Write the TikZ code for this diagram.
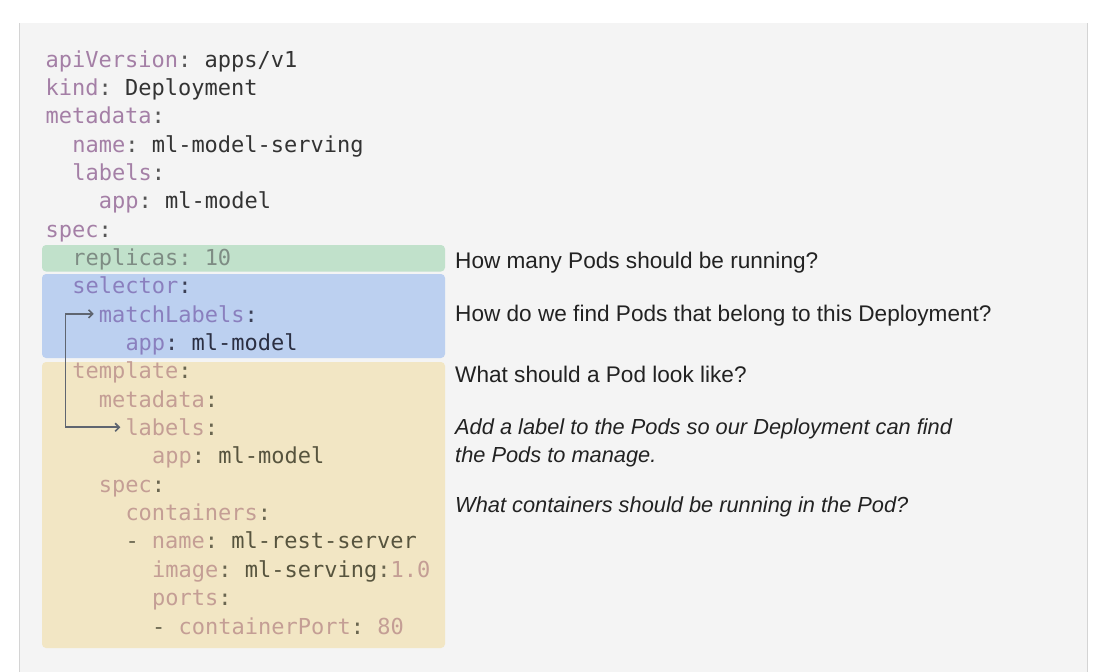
\documentclass[tikz,border=0pt]{standalone}
\usepackage{fontspec}
\usepackage{xcolor}
\usepackage{tikz}
\usetikzlibrary{arrows.meta,calc,positioning}
\newfontfamily\codefont{DejaVu Sans Mono}
\newfontfamily\notefont{Liberation Sans}
\frenchspacing
\definecolor{panelbg}{HTML}{F4F4F4}
\definecolor{paneledge}{HTML}{D4D4D4}
\definecolor{replicabox}{HTML}{C1E1CB}
\definecolor{selectbox}{HTML}{BCD0F0}
\definecolor{templatebox}{HTML}{F2E6C4}
\definecolor{notetext}{HTML}{222222}
\definecolor{linkcol}{HTML}{5F6570}
\colorlet{ykey}{black}
\colorlet{yval}{black}
\colorlet{ypunc}{black}
\newcommand{\ykey}[1]{\textcolor{ykey}{#1}}
\newcommand{\yval}[1]{\textcolor{yval}{#1}}
\newcommand{\ypunc}[1]{\textcolor{ypunc}{#1}}
\newcommand{\yamlcolors}[3]{\definecolor{ykey}{HTML}{#1}\definecolor{yval}{HTML}{#2}\definecolor{ypunc}{HTML}{#3}}
\tikzset{%
	code/.style   = {anchor=base west, inner sep=0pt, font=\codefont\fontsize{22}{28.35}\selectfont},
	note/.style   = {anchor=base west, inner sep=0pt, text=notetext, font=\notefont\fontsize{22.6}{28}\selectfont},
	hint/.style   = {note, font=\notefont\itshape\fontsize{21.8}{28}\selectfont},
	region/.style = {rounded corners=4pt},
	link/.style   = {line width=1.6pt, linkcol, {Straight Barb[length=4pt,width=8pt]}-{Straight Barb[length=4pt,width=8pt]}},
}
\begin{document}
\begin{tikzpicture}[x=1pt,y=-1pt]
	\useasboundingbox (0,0) rectangle (1114,672);
	\fill[panelbg] (20,23) rectangle (1087,672);  % page
	\draw[paneledge] (19.5,23) -- (19.5,672);
	\draw[paneledge] (1087.5,23) -- (1087.5,672);
	\fill[region,replicabox] (42,245) rectangle (445,271.5);
	\fill[region,selectbox] (42,274) rectangle (445,358);
	\fill[region,templatebox] (42,362) rectangle (445,648);
	\begin{scope}[shift={(45.5,67)},x=13.3pt,y=-28.35pt]
		% top of the manifest
		\yamlcolors{A47FA6}{333333}{555555}
		\node[code] (api)  at (0,0) {\ykey{apiVersion}\ypunc{:} \yval{apps/v1}};
		\node[code] (kind) at (0,1) {\ykey{kind}\ypunc{:} \yval{Deployment}};
		\node[code] (meta) at (0,2) {\ykey{metadata}\ypunc{:}};
		\node[code] (name) at (2,3) {\ykey{name}\ypunc{:} \yval{ml-model-serving}};
		\node[code] (lbl)  at (2,4) {\ykey{labels}\ypunc{:}};
		\node[code] (app)  at (4,5) {\ykey{app}\ypunc{:} \yval{ml-model}};
		\node[code] (spec) at (0,6) {\ykey{spec}\ypunc{:}};
		\begin{scope} % replicas
			\yamlcolors{7E8C84}{7E8C84}{7E8C84}
			\node[code] (rep) at (2,7) {\ykey{replicas}\ypunc{:} \ykey{10}};
		\end{scope}
		\begin{scope} % selector
			\yamlcolors{8A7FBE}{2B2F42}{3B3F55}
			\node[code] (sel)    at (2,8)  {\ykey{selector}\ypunc{:}};
			\node[code] (match)  at (4,9)  {\ykey{matchLabels}\ypunc{:}};
			\node[code] (selapp) at (6,10) {\ykey{app}\ypunc{:} \yval{ml-model}};
		\end{scope}
		\begin{scope} % pod template
			\yamlcolors{C49E95}{57543E}{6A6650}
			\node[code] (tpl)     at (2,11) {\ykey{template}\ypunc{:}};
			\node[code] (tplmeta) at (4,12) {\ykey{metadata}\ypunc{:}};
			\node[code] (tpllbl)  at (6,13) {\ykey{labels}\ypunc{:}};
			\node[code] (tplapp)  at (8,14) {\ykey{app}\ypunc{:} \yval{ml-model}};
			\node[code] (podspec) at (4,15) {\ykey{spec}\ypunc{:}};
			\node[code] (ctrs)    at (6,16) {\ykey{containers}\ypunc{:}};
			\node[code] (cname)   at (6,17) {\ypunc{-} \ykey{name}\ypunc{:} \yval{ml-rest-server}};
			\node[code] (cimage)  at (8,18) {\ykey{image}\ypunc{:} \yval{ml-serving}\ypunc{:}\ykey{1.0}};
			\node[code] (cports)  at (8,19) {\ykey{ports}\ypunc{:}};
			\node[code] (cport)   at (8,20) {\ypunc{-} \ykey{containerPort}\ypunc{:} \ykey{80}};
		\end{scope}
		\coordinate (spine) at (1.5,9);
		\draw[link] ([xshift=-5pt]match.west) -- (match.west -| spine) -- (tpllbl.west -| spine) -- ([xshift=-5pt]tpllbl.west);
	\end{scope}
	% questions on the right
	\node[note] (qrep) at (455,268) {How many Pods should be running?};
	\node[note] (qsel) at (455,321) {How do we find Pods that belong to this Deployment?};
	\node[note] (qtpl) at (455,382) {What should a Pod look like?};
	\node[hint,align=left] (qlbl) at (455,462) {Add a label to the Pods so our Deployment can find\\the Pods to manage.};
	\node[hint] (qctr) at (455,512) {What containers should be running in the Pod?};
\end{tikzpicture}
\end{document}
